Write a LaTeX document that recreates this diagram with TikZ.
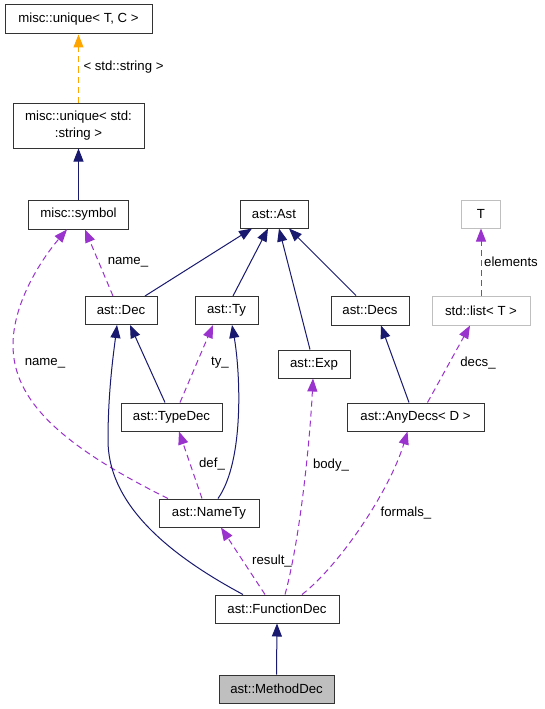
\documentclass[tikz,border=0pt]{standalone}
\usepackage{fontspec}
\setmainfont{Liberation Sans}
\usetikzlibrary{arrows.meta}
\definecolor{navyc}{HTML}{191970}
\definecolor{purpc}{HTML}{9A32CD}
\definecolor{orngc}{HTML}{FFA500}
\definecolor{grayb}{HTML}{BFBFBF}
\begin{document}
\begin{tikzpicture}[x=1pt,y=-1pt,
  every node/.style={font=\fontsize{13.2}{16.5}\selectfont},
  cls/.style={draw=black!80, line width=1pt, fill=white, inner sep=0pt, minimum height=28pt, align=center},
  ext/.style={cls, draw=grayb},
  inh/.style={draw=navyc, line width=1pt, -{Triangle[length=13pt,width=10pt]}},
  dep/.style={draw=purpc, line width=1pt, dash pattern=on 6pt off 4pt, -{Triangle[length=13pt,width=10pt]}},
  tpl/.style={draw=orngc, line width=1pt, dash pattern=on 6pt off 4pt, -{Triangle[length=13pt,width=10pt]}},
  lbl/.style={inner sep=0pt}
]
\useasboundingbox[fill=white] (0,0) rectangle (544,709);

% nodes
\node[cls, minimum width=147pt, minimum height=29pt] (uTC) at (78.5,19.5) {misc::unique< T, C >};
\node[cls, minimum width=131pt, minimum height=45pt] (uStr) at (78.5,125.5) {misc::unique< std:\\:string >};
\node[cls, minimum width=100pt, minimum height=29pt] (sym) at (78.5,214.5) {misc::symbol};
\node[cls, minimum width=68pt] (ast) at (274,214) {ast::Ast};
\node[ext, minimum width=39pt] (T) at (481,214) {T};
\node[ext, minimum width=98pt, minimum height=29pt] (list) at (481,310.5) {std::list< T >};
\node[cls, minimum width=72pt] (dec) at (121,310.5) {ast::Dec};
\node[cls, minimum width=63pt] (ty) at (226.5,310.5) {ast::Ty};
\node[cls, minimum width=78pt, minimum height=29pt] (decs) at (370,310.5) {ast::Decs};
\node[cls, minimum width=72pt] (exp) at (314,364) {ast::Exp};
\node[cls, minimum width=137pt] (any) at (415.5,417) {ast::AnyDecs< D >};
\node[cls, minimum width=101pt] (tdec) at (171.5,417) {ast::TypeDec};
\node[cls, minimum width=100pt] (nty) at (209,513) {ast::NameTy};
\node[cls, minimum width=124pt] (fd) at (277,609) {ast::FunctionDec};
\node[cls, minimum width=115pt, fill=grayb] (md) at (276.5,689) {ast::MethodDec};

% edges
\draw[tpl] (uStr.north) -- (uTC.south);
\draw[inh] (sym.north) -- (uStr.south);
\draw[inh] ([xshift=24pt]dec.north) -- ([xshift=-22pt]ast.south);
\draw[inh] ([xshift=6.5pt]ty.north) -- ([xshift=-6pt]ast.south);
\draw[inh] ([xshift=-4pt]exp.north) -- ([xshift=5pt]ast.south);
\draw[inh] ([xshift=-14pt]decs.north) -- ([xshift=15pt]ast.south);
\draw[dep] (list.north) -- (T.south);
\draw[inh] ([xshift=-6.5pt]any.north) -- ([xshift=11pt]decs.south);
\draw[dep] ([xshift=12pt]any.north) -- ([xshift=-11pt]list.south);
\draw[dep] ([xshift=-8pt]dec.north) -- ([xshift=6.5pt]sym.south);
\draw[dep] ([xshift=-41pt]nty.north) .. controls (60,445) and (13,400) .. (13,345) .. controls (13,300) and (45,255) .. ([xshift=-11.5pt]sym.south);
\draw[inh] ([xshift=-6.5pt]tdec.north) -- ([xshift=9pt]dec.south);
\draw[dep] ([xshift=8.5pt]tdec.north) -- ([xshift=-13.5pt]ty.south);
\draw[dep] ([xshift=-7pt]nty.north) -- ([xshift=7.5pt]tdec.south);
\draw[inh] ([xshift=9pt]nty.north) .. controls (245,460) and (240,370) .. ([xshift=5.5pt]ty.south);
\draw[inh] ([xshift=-34pt]fd.north) .. controls (160,550) and (108,500) .. (108,440) .. controls (108,390) and (114,350) .. ([xshift=-4pt]dec.south);
\draw[dep] ([xshift=-12pt]fd.north) -- ([xshift=12pt]nty.south);
\draw[dep] ([xshift=8pt]fd.north) .. controls (300,540) and (310,440) .. ([xshift=-1pt]exp.south);
\draw[dep] ([xshift=25pt]fd.north) .. controls (340,565) and (390,490) .. ([xshift=-8pt]any.south);
\draw[inh] (md.north) -- (fd.south);

% labels
\node[lbl] (l1) at (123.5,67) {< std::string >};
\node[lbl] (l2) at (128,262) {name\_};
\node[lbl] (l3) at (45,363) {name\_};
\node[lbl] (l4) at (220,363) {ty\_};
\node[lbl] (l5) at (212,464) {def\_};
\node[lbl] (l6) at (272,561) {result\_};
\node[lbl] (l7) at (331,465) {body\_};
\node[lbl] (l8) at (406,513) {formals\_};
\node[lbl] (l9) at (478,363) {decs\_};
\node[lbl] (l10) at (511,262) {elements};
\end{tikzpicture}
\end{document}
